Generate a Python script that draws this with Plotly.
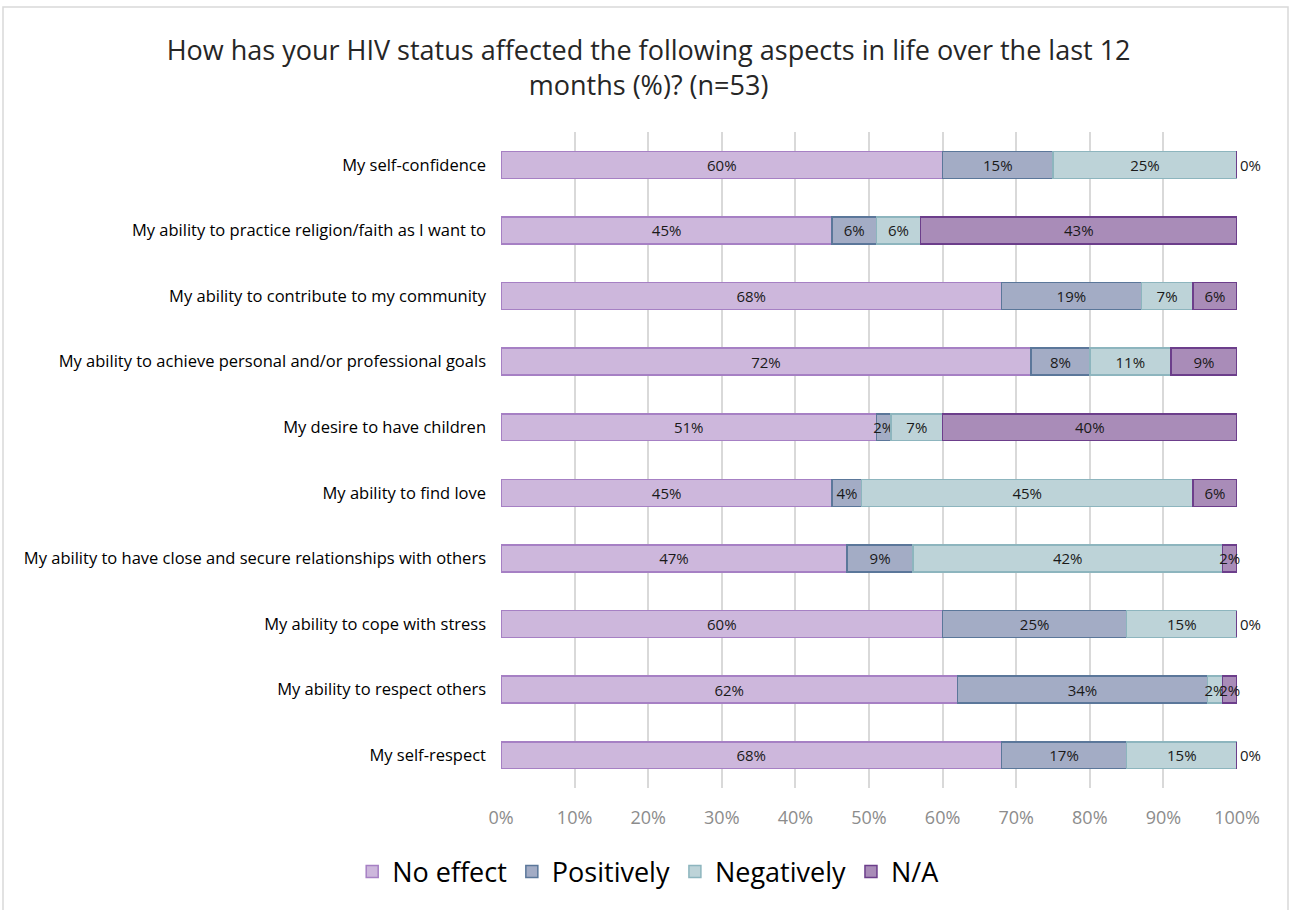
import plotly.graph_objects as go

categories = [
    "My self-confidence",
    "My ability to practice religion/faith as I want to",
    "My ability to contribute to my community",
    "My ability to achieve personal and/or professional goals",
    "My desire to have children",
    "My ability to find love",
    "My ability to have close and secure relationships with others",
    "My ability to cope with stress",
    "My ability to respect others",
    "My self-respect",
]

no_effect = [60, 45, 68, 72, 51, 45, 47, 60, 62, 68]
positively = [15, 6, 19, 8, 2, 4, 9, 25, 34, 17]
negatively = [25, 6, 7, 11, 7, 45, 42, 15, 2, 15]
not_applicable = [0, 43, 6, 9, 40, 6, 2, 0, 2, 0]

x_ticks = [0, 10, 20, 30, 40, 50, 60, 70, 80, 90, 100]

series = [
    ("No effect", no_effect, "#cdb7dc", "#a680c4"),
    ("Positively", positively, "#a3acc5", "#5b779a"),
    ("Negatively", negatively, "#bdd3d8", "#8db5be"),
    ("N/A", not_applicable, "#a98cb8", "#6c3e8b"),
]

FONT = "Open Sans, Liberation Sans, Arial, sans-serif"

fig = go.Figure()
for name, vals, fill, line in series:
    fig.add_trace(go.Bar(
        name=name,
        y=categories,
        x=vals,
        orientation="h",
        marker=dict(color=fill, line=dict(color=line, width=1.5)),
        text=[f"{v}%" for v in vals],
        textposition=["inside" if v > 0 else "outside" for v in vals],
        insidetextanchor="middle",
        textangle=0,
        constraintext="none",
        cliponaxis=False,
        textfont=dict(family=FONT, size=15, color="#1a1a1a"),
        hoverinfo="skip",
    ))

fig.update_layout(
    barmode="stack",
    bargap=0.59,
    width=1292,
    height=910,
    paper_bgcolor="white",
    plot_bgcolor="white",
    margin=dict(l=501, r=55, t=132, b=122),
    font=dict(family=FONT, color="#000000"),
    title=dict(
        text="How has your HIV status affected the following aspects in life over the last 12<br>months (%)? (n=53)",
        x=0.502, xanchor="center", xref="container",
        y=1 - 60 / 910, yanchor="middle", yref="container",
        font=dict(family=FONT, size=27, color="#262626"),
    ),
    xaxis=dict(
        range=[0, 100],
        tickvals=x_ticks,
        ticktext=[f"{t}%" for t in x_ticks],
        showgrid=True,
        gridcolor="#d9d9d9",
        gridwidth=1.5,
        zeroline=False,
        showline=False,
        tickfont=dict(family=FONT, size=18, color="#8c8c8c"),
        ticklabelstandoff=17,
        fixedrange=True,
    ),
    yaxis=dict(
        autorange="reversed",
        showgrid=False,
        tickfont=dict(family=FONT, size=16.5, color="#000000"),
        ticklabelstandoff=14,
        ticks="",
        showline=False,
    ),
    legend=dict(
        orientation="h",
        x=0.2, xanchor="center",
        y=-0.128, yanchor="middle",
        font=dict(family=FONT, size=27, color="#000000"),
        traceorder="normal",
        itemwidth=30,
    ),
    shapes=[dict(
        type="rect", xref="paper", yref="paper",
        x0=(3 - 501) / 736, x1=(1288 - 501) / 736,
        y0=(788 - 925) / 656, y1=(788 - 7) / 656,
        line=dict(color="#d9d9d9", width=1.5),
        fillcolor="rgba(0,0,0,0)", layer="below",
    )],
)

fig.write_html("out.html")
